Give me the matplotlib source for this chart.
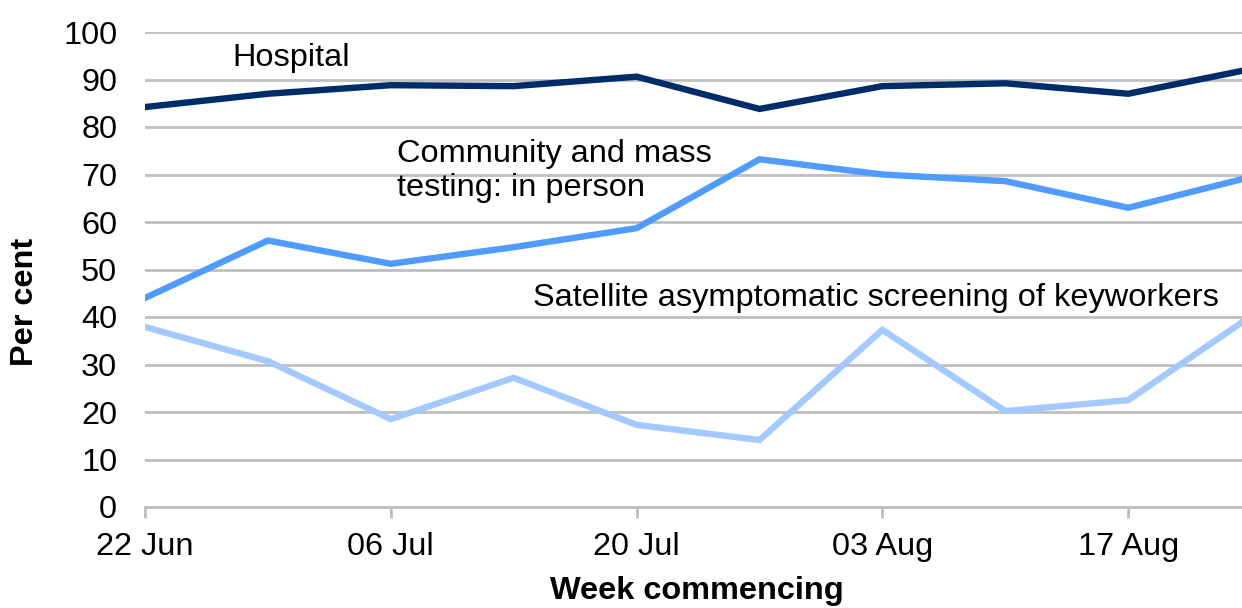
import numpy as np
import matplotlib.pyplot as plt

# weekly data, 22 Jun - 24 Aug
weeks = ['22 Jun', '29 Jun', '06 Jul', '13 Jul', '20 Jul', '27 Jul', '03 Aug', '10 Aug', '17 Aug', '24 Aug']
hospital = [84.2, 87.0, 88.8, 88.6, 90.6, 83.8, 88.6, 89.2, 87.0, 92.2]
community = [44.0, 56.1, 51.2, 54.7, 58.7, 73.2, 70.0, 68.6, 63.0, 69.5]
satellite = [37.9, 30.7, 18.5, 27.2, 17.3, 14.1, 37.3, 20.2, 22.5, 40.2]

plt.rcParams['font.family'] = ['Liberation Sans', 'DejaVu Sans']
fs = 23.4

fig = plt.figure(figsize=(12.42, 6.08), dpi=100)
ax = fig.add_axes([145 / 1242, 1 - 507 / 608, 1 - 145 / 1242, 475 / 608])

x = np.arange(len(weeks))
ax.plot(x, satellite, color='#A3C9FF', lw=4.6, solid_joinstyle='miter')
ax.plot(x, community, color='#4F9BFF', lw=4.6, solid_joinstyle='miter')
ax.plot(x, hospital, color='#002D6A', lw=4.6, solid_joinstyle='miter')

ax.set_xlim(0, 1097 / 122.9)
ax.set_ylim(0, 100)
ax.set_yticks(range(0, 101, 10))
ax.set_xticks(x[::2])
ax.set_xticklabels(weeks[::2])
ax.grid(axis='y', color='#BFBFBF', lw=2)
ax.set_axisbelow(True)
for s in ['top', 'right', 'left']:
    ax.spines[s].set_visible(False)
ax.spines['bottom'].set_color('#BFBFBF')
ax.spines['bottom'].set_linewidth(2)
ax.tick_params(axis='y', length=0, pad=20, labelsize=fs)
ax.tick_params(axis='x', length=8, width=2, color='#BFBFBF', pad=10, labelsize=fs)

ax.text(0.71, 94.5, 'Hospital', fontsize=fs, va='center', ha='left')
ax.text(2.05, 70.7, 'Community and mass\ntesting: in person', fontsize=fs,
        va='center', ha='left', linespacing=1.2)
ax.text(3.16, 44, 'Satellite asymptomatic screening of keyworkers', fontsize=fs,
        va='center', ha='left')

fig.text(25 / 1242, 1 - 302 / 608, 'Per cent', rotation=90, fontsize=fs,
         fontweight='bold', ha='center', va='center')
fig.text(697 / 1242, 1 - 591 / 608, 'Week commencing', fontsize=fs,
         fontweight='bold', ha='center', va='center')

fig.savefig('out.png', dpi=100)
